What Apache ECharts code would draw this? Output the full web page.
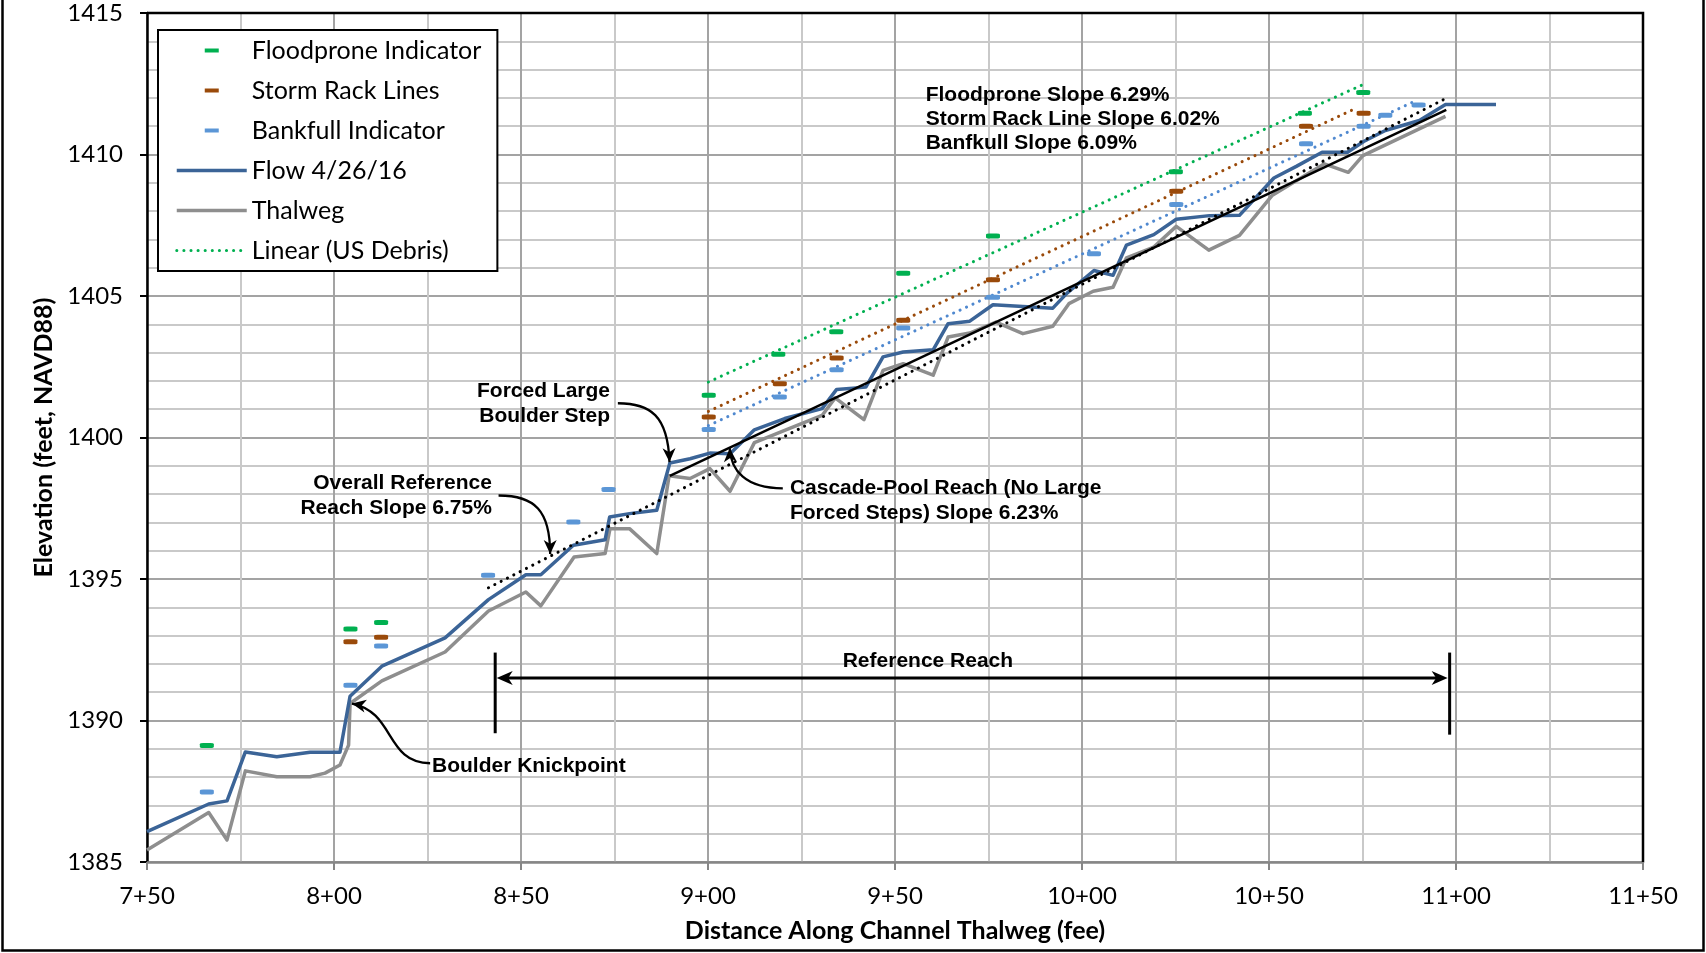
<!DOCTYPE html>
<html>
<head>
<meta charset="utf-8">
<script src="https://cdn.jsdelivr.net/npm/echarts@6/dist/echarts.min.js"></script>
<style>
  html, body { margin: 0; padding: 0; background: #fff; }
  #chart { width: 1706px; height: 953px; }
</style>
</head>
<body>
<div id="chart"></div>
<script>
// Stationing ticks (feet) and their labels
const xTicks = [750, 800, 850, 900, 950, 1000, 1050, 1100, 1150];
const xTickLabels = ['7+50', '8+00', '8+50', '9+00', '9+50', '10+00', '10+50', '11+00', '11+50'];

// Water surface profile, flow of 4/26/16
const flowDist = [750, 766.5, 771.4, 776.3, 784.7, 793.6, 801.6, 804.3, 812.8, 829.7, 841.3, 851.3, 855.3, 864, 872.5, 873.7, 879, 886.3, 889.8, 895.2, 900.5, 905.9, 912.4, 920.5, 930.5, 934.4, 942.2, 946.8, 952.2, 960.2, 964.2, 970, 976.2, 984.2, 992.2, 996, 1003.2, 1008.3, 1011.9, 1019.2, 1025.2, 1034.1, 1042.1, 1051.3, 1057.3, 1064.2, 1071, 1075.3, 1081.1, 1090.2, 1097.2, 1110.7];
const flowElev = [1386.07, 1387.05, 1387.16, 1388.89, 1388.72, 1388.88, 1388.88, 1390.86, 1391.92, 1392.92, 1394.27, 1395.15, 1395.15, 1396.19, 1396.39, 1397.19, 1397.31, 1397.43, 1399.1, 1399.25, 1399.45, 1399.43, 1400.27, 1400.67, 1401.02, 1401.7, 1401.78, 1402.85, 1403.02, 1403.1, 1404.02, 1404.11, 1404.69, 1404.63, 1404.57, 1405.1, 1405.9, 1405.73, 1406.8, 1407.17, 1407.71, 1407.84, 1407.85, 1409.17, 1409.58, 1410.08, 1410.08, 1410.46, 1410.85, 1411.2, 1411.77, 1411.77];

// Thalweg profile
const thalwegDist = [750, 766.5, 771.4, 776.3, 784.7, 793.6, 797.6, 801.6, 803.9, 804.3, 812.8, 829.7, 841.3, 851.3, 855.3, 864.2, 872.5, 873.8, 879, 886.3, 889.6, 895.2, 900.5, 905.9, 912.4, 920.5, 930.5, 934, 941.7, 946.8, 952.2, 960.2, 964.2, 970, 977, 984.2, 992.2, 996.5, 1003, 1008.3, 1011.9, 1019.2, 1025.2, 1033.9, 1042.1, 1050.8, 1064.8, 1071.2, 1075.1, 1097.2];
const thalwegElev = [1385.42, 1386.75, 1385.78, 1388.22, 1388.01, 1388.01, 1388.14, 1388.43, 1389.13, 1390.6, 1391.4, 1392.42, 1393.87, 1394.54, 1394.05, 1395.78, 1395.9, 1396.78, 1396.78, 1395.9, 1398.65, 1398.55, 1398.9, 1398.1, 1399.82, 1400.25, 1400.78, 1401.4, 1400.63, 1402.37, 1402.61, 1402.2, 1403.55, 1403.69, 1404.08, 1403.67, 1403.93, 1404.73, 1405.17, 1405.31, 1406.35, 1406.73, 1407.46, 1406.62, 1407.14, 1408.55, 1409.67, 1409.37, 1409.96, 1411.35];

// Field indicators
const floodproneDist = [766, 804.4, 812.6, 900.2, 918.8, 934.3, 952.2, 976.2, 1025.1, 1059.6, 1075.2];
const floodproneElev = [1389.12, 1393.23, 1393.46, 1401.49, 1402.94, 1403.74, 1405.8, 1407.12, 1409.39, 1411.46, 1412.19];
const stormRackDist = [804.4, 812.6, 900.2, 919.2, 934.4, 952.2, 976.2, 1025.2, 1059.9, 1075.3];
const stormRackElev = [1392.78, 1392.94, 1400.72, 1401.9, 1402.81, 1404.14, 1405.57, 1408.7, 1411.0, 1411.46];
const bankfullDist = [766, 804.4, 812.6, 841.2, 864, 873.4, 900.2, 919.2, 934.4, 952.2, 976.2, 1003.2, 1025.2, 1059.9, 1075.3, 1081.1, 1090];
const bankfullElev = [1387.47, 1391.25, 1392.63, 1395.13, 1397.01, 1398.16, 1400.28, 1401.43, 1402.39, 1403.87, 1404.96, 1406.49, 1408.23, 1410.38, 1411.0, 1411.39, 1411.75];

// Linear fits (end points)
const floodproneFitDist = [900.1, 1075.1];
const floodproneFitElev = [1401.96, 1412.47];
const stormRackFitDist = [900.1, 1072.4];
const stormRackFitElev = [1400.92, 1411.58];
const bankfullFitDist = [900.1, 1089.8];
const bankfullFitElev = [1400.42, 1411.93];
const overallFitDist = [841.3, 1097.4];
const overallFitElev = [1394.69, 1411.99];
const cascadeFitDist = [889.8, 1097.4];
const cascadeFitElev = [1398.64, 1411.58];

const pairs = (xs, ys) => xs.map((x, i) => [x, ys[i]]);

const LABEL_FONT = 'Lato';
const NOTE_FONT = 'bold 21px "Liberation Sans", Arial, sans-serif';
const dots = (color, width) => ({ color, width, type: [0.1, 7], cap: 'round' });
// legend glyph: a short dash centred in the icon box
const dashIcon = 'path://M0,0M70,4M28,0h14v4h-14z';

const chart = echarts.init(document.getElementById('chart'));

const option = {
  animation: false,
  backgroundColor: '#fff',
  grid: { left: 147, right: 63, top: 13, bottom: 91, containLabel: false },
  legend: {
    orient: 'vertical',
    left: 158, top: 30,
    padding: [8, 16, 8, 17],
    itemGap: 15,
    itemWidth: 70, itemHeight: 4,
    backgroundColor: '#fff',
    borderColor: '#000', borderWidth: 2,
    selectedMode: false,
    textStyle: { fontFamily: LABEL_FONT, fontSize: 25, color: '#000' },
    data: [
      { name: 'Floodprone Indicator', icon: dashIcon },
      { name: 'Storm Rack Lines', icon: dashIcon },
      { name: 'Bankfull Indicator', icon: dashIcon },
      { name: 'Flow 4/26/16', lineStyle: { width: 3.5 }, itemStyle: { opacity: 0 } },
      { name: 'Thalweg', lineStyle: { width: 3.5 }, itemStyle: { opacity: 0 } },
      { name: 'Linear (US Debris)', lineStyle: { width: 3 }, itemStyle: { opacity: 0 } }
    ]
  },
  xAxis: {
    type: 'value', min: 750, max: 1150, interval: 50,
    name: 'Distance Along Channel Thalweg (fee)',
    nameLocation: 'middle', nameGap: 56,
    nameTextStyle: { fontFamily: LABEL_FONT, fontWeight: 'bold', fontSize: 25, color: '#000' },
    axisLine: { show: true, lineStyle: { color: '#868686', width: 2.5 } },
    axisTick: { show: true, length: 8, lineStyle: { color: '#868686', width: 2 } },
    axisLabel: {
      margin: 22, fontFamily: LABEL_FONT, fontSize: 24, color: '#000',
      formatter: v => { const i = xTicks.indexOf(v); return i >= 0 ? xTickLabels[i] : ''; }
    },
    splitLine: { show: true, lineStyle: { color: '#a3a3a3', width: 2 } },
    minorTick: { show: false, splitNumber: 2 },
    minorSplitLine: { show: true, lineStyle: { color: '#c9c9c9', width: 2 } }
  },
  yAxis: {
    type: 'value', min: 1385, max: 1415, interval: 5,
    name: 'Elevation (feet, NAVD88)',
    nameLocation: 'middle', nameGap: 90, nameRotate: 90,
    nameTextStyle: { fontFamily: LABEL_FONT, fontWeight: 'bold', fontSize: 25, color: '#000' },
    axisLine: { show: true, lineStyle: { color: '#000', width: 2.5 } },
    axisTick: { show: true, length: 7, lineStyle: { color: '#000', width: 2 } },
    axisLabel: { margin: 24, fontFamily: LABEL_FONT, fontSize: 24, color: '#000', formatter: v => String(v) },
    splitLine: { show: true, lineStyle: { color: '#a3a3a3', width: 2 } },
    minorTick: { show: false, splitNumber: 5 },
    minorSplitLine: { show: true, lineStyle: { color: '#c9c9c9', width: 2 } }
  },
  series: [
    { name: 'Thalweg', type: 'line', z: 2, symbol: 'none', silent: true,
      data: pairs(thalwegDist, thalwegElev),
      lineStyle: { color: '#8e8e8e', width: 3.5, join: 'round' }, itemStyle: { color: '#8e8e8e' } },
    { name: 'Flow 4/26/16', type: 'line', z: 3, symbol: 'none', silent: true,
      data: pairs(flowDist, flowElev),
      lineStyle: { color: '#3b6497', width: 3.5, join: 'round' }, itemStyle: { color: '#3b6497' } },
    { name: 'Linear (US Debris)', type: 'line', z: 4, symbol: 'none', silent: true,
      data: pairs(floodproneFitDist, floodproneFitElev),
      lineStyle: dots('#00b050', 3), itemStyle: { color: '#00b050' } },
    { name: 'Storm Rack Fit', type: 'line', z: 4, symbol: 'none', silent: true,
      data: pairs(stormRackFitDist, stormRackFitElev),
      lineStyle: dots('#9a4a0a', 3), itemStyle: { color: '#9a4a0a' } },
    { name: 'Bankfull Fit', type: 'line', z: 4, symbol: 'none', silent: true,
      data: pairs(bankfullFitDist, bankfullFitElev),
      lineStyle: dots('#4f88cf', 3), itemStyle: { color: '#4f88cf' } },
    { name: 'Overall Reach Fit', type: 'line', z: 5, symbol: 'none', silent: true,
      data: pairs(overallFitDist, overallFitElev),
      lineStyle: dots('#000', 3), itemStyle: { color: '#000' } },
    { name: 'Cascade-Pool Fit', type: 'line', z: 5, symbol: 'none', silent: true,
      data: pairs(cascadeFitDist, cascadeFitElev),
      lineStyle: { color: '#000', width: 2.5 }, itemStyle: { color: '#000' } },
    { name: 'Floodprone Indicator', type: 'scatter', z: 6, silent: true,
      symbol: 'roundRect', symbolSize: [14, 5],
      data: pairs(floodproneDist, floodproneElev), itemStyle: { color: '#00b050', opacity: 1 } },
    { name: 'Storm Rack Lines', type: 'scatter', z: 6, silent: true,
      symbol: 'roundRect', symbolSize: [14, 5],
      data: pairs(stormRackDist, stormRackElev), itemStyle: { color: '#9a4a0a', opacity: 1 } },
    { name: 'Bankfull Indicator', type: 'scatter', z: 6, silent: true,
      symbol: 'roundRect', symbolSize: [14, 5],
      data: pairs(bankfullDist, bankfullElev), itemStyle: { color: '#5b96d6', opacity: 1 } }
  ]
};

chart.setOption(option);

// ---- annotations, anchored in data units ----
const P = (d, e) => chart.convertToPixel({ gridIndex: 0 }, [d, e]);

function noteText(d, e, text, align, lineHeight) {
  const [x, y] = P(d, e);
  return {
    type: 'text', x, y, z: 50, silent: true,
    style: {
      text, font: NOTE_FONT, fill: '#000',
      align, textAlign: align, verticalAlign: 'middle', textVerticalAlign: 'middle',
      lineHeight: lineHeight || 24
    }
  };
}

function arrowHead(tip, from, len, half, notch) {
  const dx = tip[0] - from[0], dy = tip[1] - from[1];
  const L = Math.hypot(dx, dy) || 1;
  const ux = dx / L, uy = dy / L, nx = -uy, ny = ux;
  const bx = tip[0] - ux * len, by = tip[1] - uy * len;
  return {
    type: 'polygon', z: 50, silent: true,
    shape: { points: [
      tip,
      [bx + nx * half, by + ny * half],
      [tip[0] - ux * (len - notch), tip[1] - uy * (len - notch)],
      [bx - nx * half, by - ny * half]
    ] },
    style: { fill: '#000', stroke: 'none' }
  };
}

function curvedArrow(p0, c1, c2, p3) {
  const a = P(...p0), b = P(...c1), c = P(...c2), t = P(...p3);
  return [
    { type: 'bezierCurve', z: 50, silent: true,
      shape: { x1: a[0], y1: a[1], cpx1: b[0], cpy1: b[1], cpx2: c[0], cpy2: c[1], x2: t[0], y2: t[1] },
      style: { stroke: '#000', lineWidth: 2.3, fill: 'none' } },
    arrowHead(t, c, 14, 6.5, 4)
  ];
}

function segment(p, q, w) {
  const a = P(...p), b = P(...q);
  return { type: 'line', z: 50, silent: true,
    shape: { x1: a[0], y1: a[1], x2: b[0], y2: b[1] },
    style: { stroke: '#000', lineWidth: w } };
}

// reference reach span
const reachStart = 843.1, reachEnd = 1098.3;
const rL = P(reachStart, 1391.5), rR = P(reachEnd, 1391.5);

const plotTL = P(750, 1415), plotBR = P(1150, 1385);

const graphics = [
  noteText(958.2, 1411.24, 'Floodprone Slope 6.29%\nStorm Rack Line Slope 6.02%\nBanfkull Slope 6.09%', 'left', 24),
  noteText(873.8, 1401.21, 'Forced Large\nBoulder Step', 'right', 25),
  noteText(842.2, 1397.93, 'Overall Reference\nReach Slope 6.75%', 'right', 25),
  noteText(921.9, 1397.76, 'Cascade-Pool Reach (No Large\nForced Steps) Slope 6.23%', 'left', 24.4),
  noteText(826.2, 1388.4, 'Boulder Knickpoint', 'left', 24),
  noteText(958.8, 1392.08, 'Reference Reach', 'center', 24),
  ...curvedArrow([875.9, 1401.21], [884.5, 1401.21], [889.3, 1400.78], [889.7, 1399.13]),
  ...curvedArrow([844.0, 1397.95], [853.7, 1397.95], [857.8, 1397.42], [857.8, 1395.88]),
  ...curvedArrow([920.0, 1398.20], [909.9, 1398.21], [906.1, 1398.84], [905.8, 1399.63]),
  ...curvedArrow([825.7, 1388.49], [813.7, 1388.50], [816.4, 1390.30], [804.8, 1390.60]),
  segment([reachStart, 1392.4], [reachStart, 1389.55], 3),
  segment([reachEnd, 1392.4], [reachEnd, 1389.5], 3),
  { type: 'line', z: 50, silent: true,
    shape: { x1: rL[0] + 8, y1: rL[1], x2: rR[0] - 8, y2: rR[1] },
    style: { stroke: '#000', lineWidth: 3 } },
  arrowHead([rL[0] + 1.5, rL[1]], [rL[0] + 30, rL[1]], 16, 7, 4.5),
  arrowHead([rR[0] - 2, rR[1]], [rR[0] - 30, rR[1]], 16, 7, 4.5),
  // plot frame: top and right edges
  { type: 'polyline', z: 40, silent: true,
    shape: { points: [[plotTL[0], plotTL[1]], [plotBR[0], plotTL[1]], [plotBR[0], plotBR[1]]] },
    style: { stroke: '#000', lineWidth: 2.5, fill: 'none' } },
  // outer chart frame
  { type: 'polyline', z: 40, silent: true,
    shape: { points: [[2.5, 0], [2.5, 950.5], [1703.5, 950.5], [1703.5, 0]] },
    style: { stroke: '#000', lineWidth: 2.5, fill: 'none' } }
];

chart.setOption({ graphic: graphics });
</script>
</body>
</html>
